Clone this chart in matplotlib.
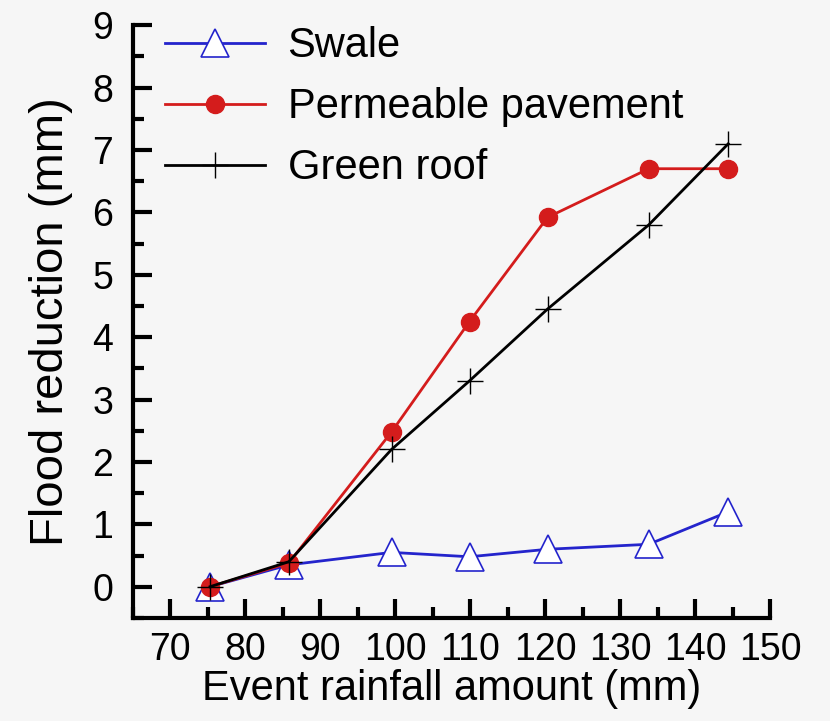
import matplotlib
matplotlib.use("Agg")
import matplotlib.pyplot as plt
from matplotlib.ticker import MultipleLocator

plt.rcParams['font.family'] = ['Liberation Sans', 'DejaVu Sans']

# data
rainfall = [75.3, 85.8, 99.5, 109.9, 120.3, 133.8, 144.4]
swale = [0.0, 0.35, 0.55, 0.48, 0.60, 0.68, 1.20]
permeable = [0.0, 0.38, 2.48, 4.25, 5.92, 6.70, 6.70]
green_roof = [0.0, 0.40, 2.20, 3.30, 4.45, 5.80, 7.10]

bg = '#f6f6f6'
fig = plt.figure(figsize=(8.3, 7.21), dpi=100, facecolor=bg)
ax = fig.add_axes([0.160, 0.143, 0.768, 0.822], facecolor=bg)

ax.plot(rainfall, swale, color='#2424cc', lw=2, marker='^', ms=20,
        mfc='white', mec='#2424cc', mew=1.2, label='Swale')
ax.plot(rainfall, permeable, color='#d41c1c', lw=2, marker='o', ms=13,
        mfc='#d41c1c', mec='#d41c1c', label='Permeable pavement')
ax.plot(rainfall, green_roof, color='black', lw=2, marker='+', ms=19,
        mew=1.0, label='Green roof')

ax.set_xlim(65, 150)
ax.set_ylim(-0.5, 9)
ax.xaxis.set_major_locator(MultipleLocator(10))
ax.xaxis.set_minor_locator(MultipleLocator(5))
ax.yaxis.set_major_locator(MultipleLocator(1))
ax.yaxis.set_minor_locator(MultipleLocator(0.5))

for side in ['top', 'right']:
    ax.spines[side].set_visible(False)
for side in ['left', 'bottom']:
    ax.spines[side].set_linewidth(3)

ax.tick_params(which='major', direction='in', length=14, width=3, labelsize=27)
ax.tick_params(which='minor', direction='in', length=8, width=3)
ax.tick_params(axis='x', which='major', pad=10)
ax.tick_params(axis='y', which='major', pad=14)

ax.set_xlabel('Event rainfall amount (mm)', fontsize=30, labelpad=1)
ax.set_ylabel('Flood reduction (mm)', fontsize=34, labelpad=14)

ax.legend(loc='upper left', bbox_to_anchor=(0.05, 0.998), frameon=False,
          fontsize=30, handlelength=2.4, handletextpad=0.55,
          labelspacing=0.5, borderaxespad=0, borderpad=0)

fig.savefig('out.png', dpi=100, facecolor=bg)
